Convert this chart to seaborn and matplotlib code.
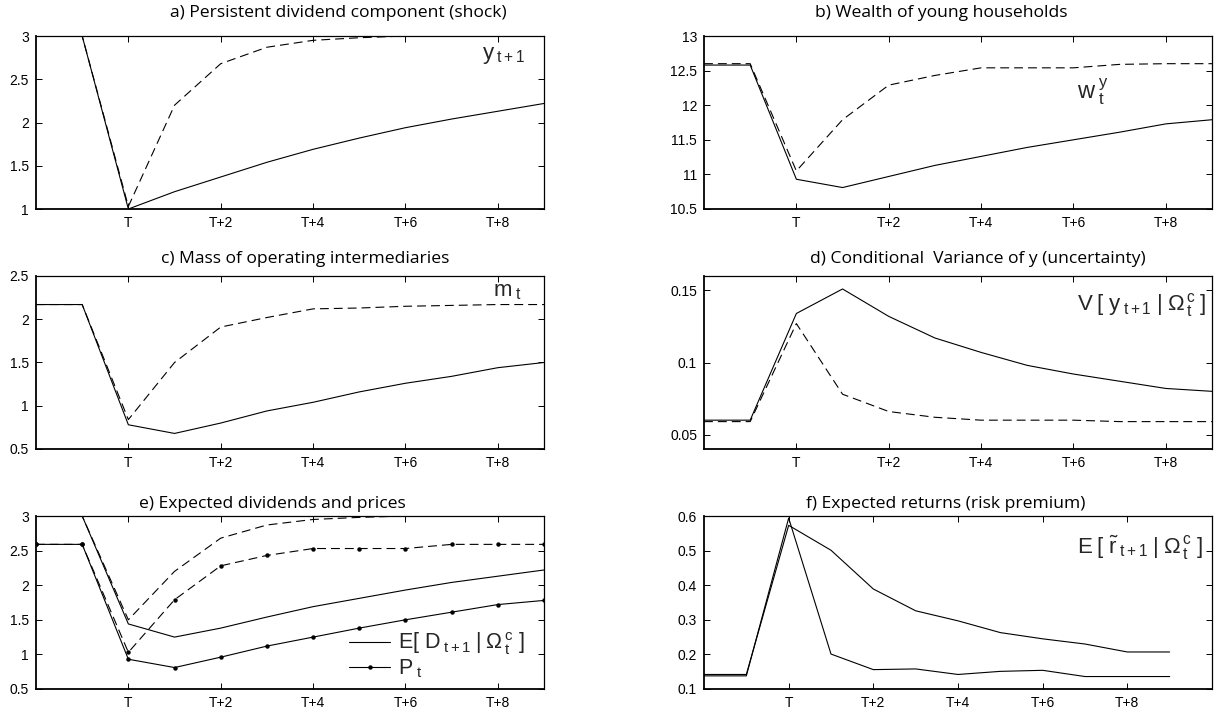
import matplotlib
matplotlib.use("Agg")
import matplotlib.pyplot as plt
import seaborn as sns
import pandas as pd
from matplotlib.lines import Line2D

# ---------------- data ----------------
periods = [-2, -1, 0, 1, 2, 3, 4, 5, 6, 7, 8, 9]          # T-2 ... T+9
tick_pos = [0, 2, 4, 6, 8]
tick_labels = ["T", "T+2", "T+4", "T+6", "T+8"]

a_solid = [3.0, 3.0, 1.0, 1.2, 1.37, 1.54, 1.69, 1.82, 1.94, 2.04, 2.13, 2.22]
a_dash = [3.0, 3.0, 1.03, 2.2, 2.68, 2.87, 2.95, 2.98, 3.0, 3.0, 3.0, 3.0]

b_solid = [12.58, 12.58, 10.93, 10.81, 10.97, 11.13, 11.26, 11.39, 11.5, 11.61, 11.73, 11.79]
b_dash = [12.6, 12.6, 11.05, 11.79, 12.29, 12.43, 12.54, 12.54, 12.54, 12.59, 12.6, 12.6]

c_solid = [2.17, 2.17, 0.78, 0.68, 0.8, 0.94, 1.04, 1.16, 1.26, 1.34, 1.44, 1.5]
c_dash = [2.17, 2.17, 0.84, 1.5, 1.91, 2.02, 2.12, 2.13, 2.15, 2.16, 2.17, 2.17]

d_solid = [0.060, 0.060, 0.134, 0.151, 0.132, 0.117, 0.107, 0.098, 0.092, 0.087, 0.082, 0.080]
d_dash = [0.059, 0.059, 0.127, 0.078, 0.066, 0.062, 0.060, 0.060, 0.060, 0.059, 0.059, 0.059]

e_div_solid = [3.0, 3.0, 1.44, 1.25, 1.38, 1.54, 1.69, 1.81, 1.93, 2.04, 2.13, 2.22]
e_div_dash = [3.0, 3.0, 1.5, 2.2, 2.68, 2.87, 2.95, 2.98, 3.0, 3.0, 3.0, 3.0]
e_price_solid = [2.59, 2.59, 0.93, 0.81, 0.96, 1.12, 1.25, 1.38, 1.5, 1.61, 1.72, 1.78]
e_price_dash = [2.59, 2.59, 1.03, 1.79, 2.28, 2.43, 2.53, 2.53, 2.53, 2.59, 2.59, 2.59]

f_slow = [0.142, 0.142, 0.573, 0.501, 0.389, 0.326, 0.297, 0.263, 0.245, 0.230, 0.207, 0.207]
f_fast = [0.138, 0.138, 0.594, 0.201, 0.156, 0.158, 0.142, 0.151, 0.154, 0.136, 0.136, 0.136]

titles = ["a) Persistent dividend component (shock)",
          "b) Wealth of young households",
          "c) Mass of operating intermediaries",
          "d) Conditional  Variance of y (uncertainty)",
          "e) Expected dividends and prices",
          "f) Expected returns (risk premium)"]

# ---------------- style ----------------
sns.set_style("ticks")
plt.rcParams["font.family"] = ["Liberation Sans", "DejaVu Sans"]
plt.rcParams["mathtext.fontset"] = "custom"
plt.rcParams["mathtext.rm"] = "Liberation Sans"
plt.rcParams["mathtext.it"] = "Liberation Sans"
plt.rcParams["mathtext.default"] = "regular"

W, H = 1221, 714
fig = plt.figure(figsize=(W / 100, H / 100), dpi=100)
fig.patch.set_facecolor("white")

col_left = [36, 704]
row_top = [36, 276, 516]
title_gap = [23, 17, 12]
ax_w, ax_h = 508, 173

LW = 0.8
DASH = (0, (8, 4.5))


def make_ax(r, c):
    ax = fig.add_axes([col_left[c] / W, 1 - (row_top[r] + ax_h) / H, ax_w / W, ax_h / H])
    ax.set_facecolor("white")
    for name, s in ax.spines.items():
        s.set_color("black")
        s.set_linewidth(1.3 if name in ("left", "bottom") else 0.9)
    ax.tick_params(direction="in", top=True, right=True, length=4, width=0.7,
                   labelsize=10, colors="black", pad=5)
    return ax


def finish(ax, xlim, ylim, yticks, ylabels):
    ax.set_xlim(*xlim)
    ax.set_ylim(*ylim)
    ax.set_xticks(tick_pos)
    ax.set_xticklabels(tick_labels)
    ax.set_yticks(yticks)
    ax.set_yticklabels(ylabels)
    ax.set_xlabel("")
    ax.set_ylabel("")


def line(ax, y, dashed=False, marker=None, x=periods):
    df = pd.DataFrame({"x": x, "y": y})
    kw = dict(color="black", linewidth=LW)
    if dashed:
        kw["linestyle"] = DASH
    if marker:
        kw.update(marker=marker, markersize=3.2, markeredgewidth=0)
    sns.lineplot(data=df, x="x", y="y", ax=ax, **kw)


title_x = [338, 941, 305, 978, 272, 946]


def title(i, r):
    fig.text(title_x[i] / W, 1 - (row_top[r] - title_gap[r]) / H, titles[i], ha="center",
             va="center", fontsize=12.6, family=["Open Sans", "DejaVu Sans"], color="black")


# a
ax = make_ax(0, 0)
line(ax, a_solid)
line(ax, a_dash, dashed=True)
finish(ax, (-2, 9), (1, 3), [1, 1.5, 2, 2.5, 3], ["1", "1.5", "2", "2.5", "3"])
ax.text(0.878, 0.865, r"$y_{\;t+1}$", transform=ax.transAxes, fontsize=16)
title(0, 0)

# b
ax = make_ax(0, 1)
line(ax, b_solid)
line(ax, b_dash, dashed=True)
finish(ax, (-2, 9), (10.5, 13), [10.5, 11, 11.5, 12, 12.5, 13],
       ["10.5", "11", "11.5", "12", "12.5", "13"])
ax.text(0.735, 0.64, r"$w^{\;y}_{\;t}$", transform=ax.transAxes, fontsize=17)
title(1, 0)

# c
ax = make_ax(1, 0)
line(ax, c_solid)
line(ax, c_dash, dashed=True)
finish(ax, (-2, 9), (0.5, 2.5), [0.5, 1, 1.5, 2, 2.5], ["0.5", "1", "1.5", "2", "2.5"])
ax.text(0.9, 0.88, r"$m_{\;t}$", transform=ax.transAxes, fontsize=16)
title(2, 1)

# d
ax = make_ax(1, 1)
line(ax, d_solid)
line(ax, d_dash, dashed=True)
finish(ax, (-2, 9), (0.04, 0.16), [0.05, 0.1, 0.15], ["0.05", "0.1", "0.15"])
ax.text(0.735, 0.8, r"$V\;[\;y_{\;t+1}\;|\;\Omega^{\,c}_{\,t}\;]$", transform=ax.transAxes,
        fontsize=16)
title(3, 1)

# e
ax = make_ax(2, 0)
line(ax, e_div_solid)
line(ax, e_div_dash, dashed=True)
line(ax, e_price_solid, marker="o")
line(ax, e_price_dash, dashed=True, marker="o")
finish(ax, (-2, 9), (0.5, 3), [0.5, 1, 1.5, 2, 2.5, 3], ["0.5", "1", "1.5", "2", "2.5", "3"])
handles = [Line2D([], [], color="black", linewidth=LW),
           Line2D([], [], color="black", linewidth=LW, marker="o", markersize=3.2,
                  markeredgewidth=0)]
labels = [r"E[ $D_{\;t+1}\;|\;\Omega^{\,c}_{\,t}$ ]", r"$P_{\;t}$"]
ax.legend(handles, labels, loc="lower right", frameon=False, fontsize=15.5,
          handlelength=1.9, handletextpad=0.35, labelspacing=0.0,
          bbox_to_anchor=(1.0, -0.06))
title(4, 2)

# f
ax = make_ax(2, 1)
line(ax, f_slow)
line(ax, f_fast)
finish(ax, (-2, 10), (0.1, 0.6), [0.1, 0.2, 0.3, 0.4, 0.5, 0.6],
       ["0.1", "0.2", "0.3", "0.4", "0.5", "0.6"])
ax.text(0.735, 0.78, r"$E\;[\;\tilde{r}_{\;t+1}\;|\;\Omega^{\,c}_{\,t}\;]$",
        transform=ax.transAxes, fontsize=16)
title(5, 2)

fig.savefig("out.png", dpi=100, facecolor="white")
